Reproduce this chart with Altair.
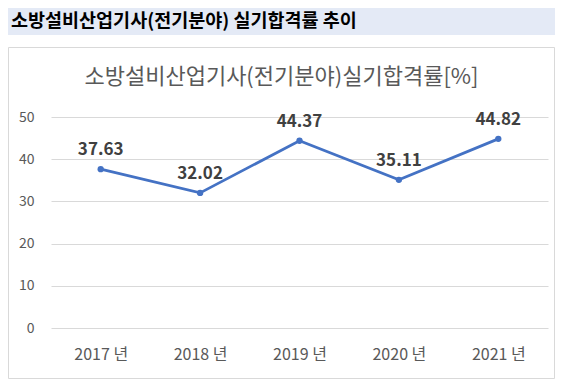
import altair as alt
import pandas as pd

years = ["2017 년", "2018 년", "2019 년", "2020 년", "2021 년"]
rates = [37.63, 32.02, 44.37, 35.11, 44.82]
y_ticks = [0, 10, 20, 30, 40, 50]

header_text = "소방설비산업기사(전기분야) 실기합격률 추이"
chart_title = "소방설비산업기사(전기분야)실기합격률[%]"

df = pd.DataFrame({"year": years, "rate": rates})
one = alt.Data(values=[{"a": 1}])

KFONT = "Noto Sans CJK KR"
W, H = 497, 211

x_enc = alt.X("year:O", sort=years,
              scale=alt.Scale(type="point", padding=0.5),
              axis=alt.Axis(title=None, labelAngle=0, ticks=False, domain=False,
                            labelPadding=18, labelFontSize=16, labelColor="#595959",
                            labelFont=KFONT, grid=False))
y_enc = alt.Y("rate:Q", scale=alt.Scale(domain=[0, 50], nice=False, zero=True),
              axis=alt.Axis(title=None, values=y_ticks, ticks=False, domain=False,
                            labelPadding=17, labelFontSize=14, labelColor="#595959",
                            labelFont=KFONT, gridColor="#D9D9D9", gridWidth=1))

header_bg = alt.Chart(one).mark_rect(color="#E4EAF6", clip=False).encode(
    x=alt.value(-43), x2=alt.value(504), y=alt.value(-109), y2=alt.value(-82))

header = alt.Chart(one).mark_text(
    text=header_text, font=KFONT, fontSize=18.5, fontWeight="bold", color="#000000",
    align="left", baseline="middle").encode(x=alt.value(-40), y=alt.value(-96))

border = alt.Chart(one).mark_rect(filled=False, stroke="#D9D9D9", strokeWidth=1, clip=False).encode(
    x=alt.value(-42.5), x2=alt.value(503.5), y=alt.value(-69.5), y2=alt.value(261.5))

title = alt.Chart(one).mark_text(
    text=chart_title, font=KFONT, fontSize=22, color="#595959",
    align="center", baseline="alphabetic").encode(x=alt.value(230.5), y=alt.value(-33))

base = alt.Chart(df).encode(x=x_enc, y=y_enc)

line = base.mark_line(color="#4472C4", strokeWidth=2.75)
points = base.mark_circle(color="#4472C4", size=40, opacity=1)
labels = base.mark_text(dy=-14, baseline="alphabetic", fontSize=17, fontWeight="bold",
                        color="#404040", font=KFONT).encode(text=alt.Text("rate:Q", format=".2f"))

chart = alt.layer(header_bg, border, header, title, line, points, labels).properties(
    width=W, height=H,
    autosize=alt.AutoSizeParams(type="none"),
    padding={"left": 43, "top": 109, "right": 7, "bottom": 51},
    background="white",
).configure_view(stroke=None)

chart.save("out.html", embed_options={"renderer": "svg", "actions": False})
